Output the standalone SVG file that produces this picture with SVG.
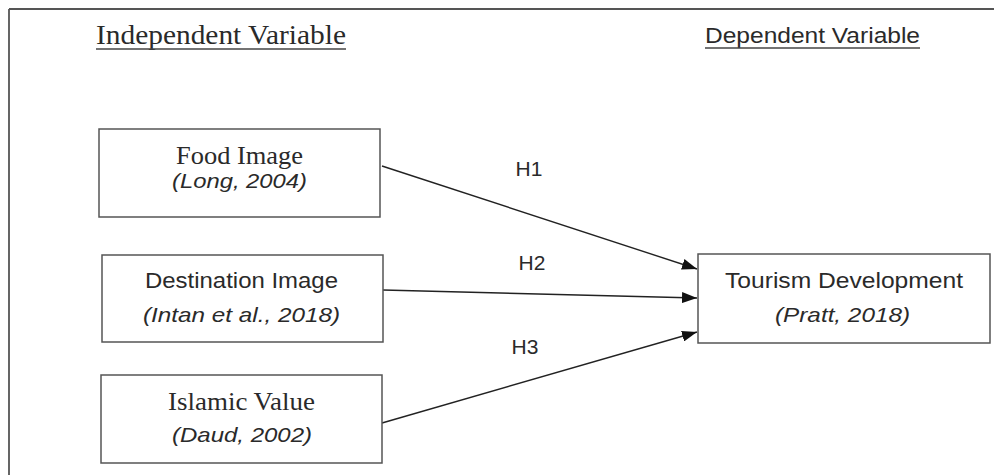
<svg xmlns="http://www.w3.org/2000/svg" width="994" height="475" viewBox="0 0 994 475">
<style>
.box{fill:#fff;stroke:#555;stroke-width:1.5}
.serif{font-family:"Liberation Serif","Times New Roman",serif;fill:#2a2a2a}
.sans{font-family:"Liberation Sans",Arial,sans-serif;fill:#2a2a2a}
.it{font-style:italic}
.conn{stroke:#222;stroke-width:1.4;fill:none;marker-end:url(#arr)}
.ul{stroke:#444;stroke-width:1.3}
</style>
<defs>
<marker id="arr" viewBox="0 0 15 11" refX="15" refY="5.5" markerWidth="15" markerHeight="11" markerUnits="userSpaceOnUse" orient="auto">
<path d="M0,0 L15,5.5 L0,11 Z" fill="#111"/>
</marker>
</defs>
<rect width="994" height="475" fill="#fff"/>
<g id="frame">
<line x1="9" y1="9" x2="994" y2="9" stroke="#555" stroke-width="1.8"/>
<line x1="9" y1="9" x2="9" y2="475" stroke="#555" stroke-width="1.8"/>
</g>
<g id="headers">
<text class="serif" x="96" y="44" font-size="27" textLength="250" lengthAdjust="spacingAndGlyphs">Independent Variable</text>
<line class="ul" x1="96" y1="49" x2="346" y2="49"/>
<text class="sans" x="705" y="43" font-size="22" textLength="215" lengthAdjust="spacingAndGlyphs">Dependent Variable</text>
<line class="ul" x1="705" y1="48" x2="920" y2="48"/>
</g>
<g id="connectors">
<line class="conn" x1="382" y1="166" x2="697" y2="269"/>
<line class="conn" x1="383" y1="290" x2="697" y2="298"/>
<line class="conn" x1="382" y1="423" x2="697" y2="332"/>
<text class="sans" x="529" y="176" font-size="21" text-anchor="middle">H1</text>
<text class="sans" x="532" y="270" font-size="21" text-anchor="middle">H2</text>
<text class="sans" x="525" y="354" font-size="21" text-anchor="middle">H3</text>
</g>
<g id="food-image">
<rect class="box" x="99" y="129" width="281" height="88"/>
<text class="serif" x="176" y="164" font-size="25" textLength="127" lengthAdjust="spacingAndGlyphs">Food Image</text>
<text class="sans it" x="172" y="188" font-size="21" textLength="135" lengthAdjust="spacingAndGlyphs">(Long, 2004)</text>
</g>
<g id="destination-image">
<rect class="box" x="102" y="255" width="281" height="87"/>
<text class="sans" x="145" y="288" font-size="22" textLength="193" lengthAdjust="spacingAndGlyphs">Destination Image</text>
<text class="sans it" x="143" y="322" font-size="21" textLength="197" lengthAdjust="spacingAndGlyphs">(Intan et al., 2018)</text>
</g>
<g id="islamic-value">
<rect class="box" x="101" y="375" width="281" height="88"/>
<text class="serif" x="168" y="410" font-size="25" textLength="147" lengthAdjust="spacingAndGlyphs">Islamic Value</text>
<text class="sans it" x="172" y="442" font-size="21" textLength="140" lengthAdjust="spacingAndGlyphs">(Daud, 2002)</text>
</g>
<g id="tourism-development">
<rect class="box" x="698" y="254" width="292" height="89"/>
<text class="sans" x="725" y="288" font-size="22" textLength="238" lengthAdjust="spacingAndGlyphs">Tourism Development</text>
<text class="sans it" x="775" y="322" font-size="21" textLength="135" lengthAdjust="spacingAndGlyphs">(Pratt, 2018)</text>
</g>
</svg>
